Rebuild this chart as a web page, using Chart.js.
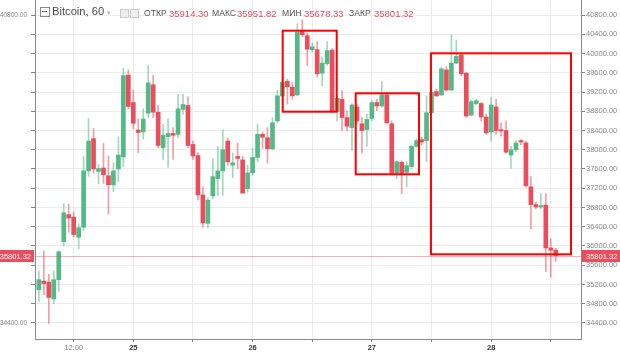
<!DOCTYPE html>
<html>
<head>
<meta charset="utf-8">
<script src="https://cdn.jsdelivr.net/npm/chart.js@4.4.1/dist/chart.umd.min.js"></script>
<style>
  html, body { margin: 0; padding: 0; background: #fff; }
  #wrap { position: relative; width: 620px; height: 352px; }
  #legend { position: absolute; left: 0; top: 0; width: 620px; height: 24px; font-family: "Liberation Sans", Arial, sans-serif; }
  #legend span { position: absolute; white-space: nowrap; line-height: 1; }
  .nm { font-size: 8.6px; color: #555; top: 9px; }
  .val { font-size: 9.5px; color: #e2505d; top: 8.5px; }
  .sq { width: 7px; height: 7px; border: 1px solid #ccc; background: #eee; top: 9px; }
</style>
</head>
<body>
<div id="wrap">
  <canvas id="chart" width="620" height="352"></canvas>
  <div id="legend">
    <span style="left:40px;top:7px;width:8px;height:8px;border:1px solid #888;"></span>
    <span style="left:42px;top:11px;width:5px;height:1px;background:#666;"></span>
    <span id="title" style="left:52px;top:6px;font-size:11.2px;color:#4a4a4a;"></span>
    <span style="left:107px;top:9px;font-size:7px;color:#bbb;">▾</span>
    <span class="sq" style="left:120px;"></span>
    <span class="sq" style="left:130px;"></span>
  </div>
</div>
<script>
// hourly candles, first one at 24th 05:00 (hours counted from 24th 00:00)
const firstHour = 5;

const open = [35090, 35270, 35250, 34900, 35300, 36090, 36650, 36600, 36180, 36390,
  37560, 38230, 37550, 37620, 37460, 37270, 37600, 37850, 39550, 38980,
  38410, 38370, 38760, 39350, 38780, 38040, 38270, 38340, 38320, 38840,
  38920, 38110, 37880, 37060, 36470, 37040, 37400, 37560, 38180, 37680,
  37860, 37790, 37190, 37520, 37840, 38320, 38250, 38020, 38600, 39120,
  39420, 39300, 39140, 40460, 40370, 40080, 40080, 39590, 39790, 40070,
  38790, 39050, 38670, 38460, 38890, 38540, 38420, 38650, 38980, 38910,
  39140, 38540, 37510, 37740, 37530, 37650, 38070, 38210, 38190, 38770,
  39210, 39140, 39660, 39240, 39800, 39970, 39590, 38720, 38960, 38960,
  38680, 38370, 38890, 38420, 38400, 37890, 38000, 38190, 38140, 37230,
  36860, 36810, 36850, 35960, 35914.30];
const high = [35480, 35900, 35410, 35480, 35900, 36880, 36870, 36710, 36460, 37870,
  38650, 38440, 37690, 38130, 37870, 37730, 38270, 39690, 39660, 39240,
  38640, 38850, 39760, 39550, 38920, 38530, 38640, 38460, 39150, 39150,
  39100, 38180, 37940, 37230, 37000, 37820, 38070, 38420, 38250, 37930,
  38140, 37860, 37680, 38030, 38530, 38370, 38460, 38670, 39230, 39510,
  39470, 39400, 40620, 40700, 40420, 40220, 40250, 39930, 40250, 40100,
  39120, 39230, 38810, 38960, 38950, 38670, 38740, 39020, 39050, 39420,
  39190, 38600, 37770, 37770, 37750, 38100, 38230, 38260, 39120, 39230,
  39260, 39720, 39730, 40390, 40280, 40000, 39610, 39030, 39050, 38980,
  38740, 39090, 39050, 38560, 38600, 38070, 38190, 38210, 38180, 37440,
  36910, 37090, 37090, 36150, 35951.82];
const low = [34850, 34990, 34390, 34800, 35060, 36000, 36290, 36180, 35940, 36320,
  37450, 37510, 37290, 37300, 36660, 37130, 37340, 37650, 38850, 38430,
  37940, 38220, 38670, 38670, 38040, 37800, 37640, 37800, 38250, 38740,
  38040, 37800, 36950, 36390, 36380, 36980, 37050, 37050, 37680, 37420,
  37610, 37090, 37120, 37470, 37750, 38030, 37720, 38000, 38560, 39100,
  38950, 39050, 39120, 40350, 39750, 40030, 39510, 39330, 39750, 38770,
  38600, 38390, 38390, 37980, 38530, 37930, 38070, 38600, 38810, 38880,
  38540, 37490, 37400, 37090, 37230, 37610, 38050, 38100, 37750, 38740,
  39100, 39120, 39230, 39230, 39790, 39540, 38670, 38700, 38930, 38600,
  38320, 38180, 38320, 38280, 37930, 37610, 37960, 38100, 37230, 36350,
  36770, 36770, 35470, 35350, 35678.33];
const close = [35300, 35220, 34930, 35300, 35880, 36690, 36580, 36240, 36380, 37560,
  38180, 37600, 37610, 37480, 37270, 37560, 37890, 39540, 38900, 38550,
  38360, 38640, 39390, 38780, 38090, 38300, 38340, 38300, 38850, 38940,
  38090, 37870, 37060, 36480, 36950, 37440, 37560, 38000, 37750, 37730,
  37820, 37100, 37520, 37840, 38320, 38260, 38020, 38560, 39120, 39400,
  39310, 39120, 40440, 40390, 40090, 40140, 39580, 39800, 40060, 38790,
  39070, 38670, 38490, 38930, 38600, 38400, 38630, 38980, 38910, 39140,
  38560, 37510, 37750, 37510, 37670, 38070, 38190, 38160, 38770, 39190,
  39120, 39680, 39240, 39800, 39940, 39580, 38700, 39000, 39020, 38680,
  38350, 38930, 38400, 38390, 37950, 38000, 38140, 38160, 37250, 36860,
  36810, 36840, 35960, 35910, 35801.32];

const yTicks = [34400, 34800, 35200, 35600, 36000, 36400, 36800, 37200, 37600,
  38000, 38400, 38800, 39200, 39600, 40000, 40400, 40800];
const xTicks = [12, 24, 36, 48, 60, 72, 84, 96, 108];
const xTickLabels = ['12:00', '25', '', '26', '', '27', '', '28', ''];

const title = 'Bitcoin, 60';
const legendNames = ['ОТКР', 'МАКС', 'МИН', 'ЗАКР'];
const legendValues = [35914.30, 35951.82, 35678.33, 35801.32];
const lastPrice = 35801.32;

// highlighted regions: [from hour, to hour], [low price, high price]
const boxHours = [[54.06, 64.93], [68.75, 81.48], [83.89, 112.07]];
const boxPrices = [[38791, 40474], [37490, 39173], [35827, 40004]];

const UP = '#53b987';
const DOWN = '#eb4d5c';
const FONT = '"Liberation Sans", Arial, sans-serif';

// legend text
document.getElementById('title').textContent = title;
const legend = document.getElementById('legend');
const nameLeft = [144, 212, 282, 349];
const valLeft = [169, 237, 304, 374];
legendNames.forEach((n, i) => {
  const a = document.createElement('span');
  a.className = 'nm';
  a.style.left = nameLeft[i] + 'px';
  a.textContent = n;
  legend.appendChild(a);
  const b = document.createElement('span');
  b.className = 'val';
  b.style.left = valLeft[i] + 'px';
  b.textContent = legendValues[i].toFixed(2);
  legend.appendChild(b);
});

const isUp = close.map((c, i) => c >= open[i]);
const wicks = close.map((c, i) => ({ x: firstHour + i, y: [low[i], high[i]] }));
const bodies = close.map((c, i) => ({ x: firstHour + i, y: [Math.min(open[i], c), Math.max(open[i], c)] }));

const overlay = {
  id: 'overlay',
  afterDatasetsDraw(chart) {
    const { ctx, chartArea: a, scales: { x, y } } = chart;
    const py = Math.round(y.getPixelForValue(lastPrice)) + 0.5;
    ctx.save();
    ctx.strokeStyle = 'rgba(235,77,92,0.45)';
    ctx.lineWidth = 1;
    ctx.beginPath();
    ctx.moveTo(a.left, py);
    ctx.lineTo(a.right, py);
    ctx.stroke();

    ctx.strokeStyle = '#ff0000';
    ctx.lineWidth = 2;
    boxHours.forEach((h, i) => {
      const x0 = x.getPixelForValue(h[0]);
      const x1 = x.getPixelForValue(h[1]);
      const y0 = y.getPixelForValue(boxPrices[i][1]);
      const y1 = y.getPixelForValue(boxPrices[i][0]);
      ctx.strokeRect(x0, y0, x1 - x0, y1 - y0);
    });
    ctx.restore();
  },
  afterDraw(chart) {
    const { ctx, chartArea: a, scales: { y } } = chart;
    const py = Math.round(y.getPixelForValue(lastPrice));
    ctx.save();
    ctx.fillStyle = DOWN;
    ctx.fillRect(a.right + 1, py - 6, chart.width - a.right, 12);
    ctx.fillRect(0, py - 6, a.left - 1, 12);
    ctx.fillStyle = '#fff';
    ctx.font = '7.5px ' + FONT;
    ctx.textBaseline = 'middle';
    ctx.textAlign = 'left';
    ctx.fillText(lastPrice.toFixed(2), a.right + 5, py + 0.5);
    ctx.textAlign = 'right';
    ctx.fillText(lastPrice.toFixed(2), a.left - 4, py + 0.5);
    ctx.restore();
  }
};

const setTicks = list => scale => { scale.ticks = list.map(v => ({ value: v })); };
const noPad = w => s => {
  s.width = w;
  s.paddingTop = 0;
  s.paddingBottom = 0;
};

new Chart(document.getElementById('chart'), {
  type: 'bar',
  data: {
    datasets: [
      {
        label: 'wick',
        data: wicks,
        backgroundColor: isUp.map(u => u ? 'rgba(83,185,135,0.55)' : 'rgba(235,77,92,0.55)'),
        barThickness: 1,
        grouped: false,
        order: 2,
        yAxisID: 'y'
      },
      {
        label: 'body',
        data: bodies,
        backgroundColor: isUp.map(u => u ? UP : DOWN),
        barThickness: 4,
        minBarLength: 1,
        grouped: false,
        order: 1,
        yAxisID: 'y'
      }
    ]
  },
  options: {
    responsive: false,
    animation: false,
    devicePixelRatio: 1,
    layout: { padding: 0 },
    plugins: { legend: { display: false }, tooltip: { enabled: false } },
    scales: {
      x: {
        type: 'linear',
        min: 4.22,
        max: 114.08,
        offset: false,
        afterBuildTicks: setTicks(xTicks),
        afterFit: s => { s.height = 13; s.paddingLeft = 0; s.paddingRight = 0; },
        grid: { offset: false, color: '#ececec', tickColor: '#888', tickLength: 3 },
        border: { color: '#8a8a8a' },
        ticks: {
          autoSkip: false,
          maxRotation: 0,
          padding: 1,
          font: ctx => ({ family: FONT, size: 7.5, weight: ctx.tick && /^\d\d$/.test(ctx.tick.label) ? 'bold' : 'normal' }),
          color: ctx => ctx.tick && /^\d\d$/.test(ctx.tick.label) ? '#333' : '#888',
          callback: v => {
            const k = xTicks.indexOf(v);
            return k >= 0 ? xTickLabels[k] : '';
          }
        }
      },
      y: {
        type: 'linear',
        position: 'right',
        min: 34067,
        max: 41112,
        beginAtZero: false,
        afterBuildTicks: setTicks(yTicks),
        afterFit: noPad(39),
        grid: { color: '#ececec', tickColor: '#888', tickLength: 4 },
        border: { color: '#8a8a8a' },
        ticks: {
          padding: 1,
          color: '#888',
          font: { family: FONT, size: 7.5 },
          callback: v => v.toFixed(2)
        }
      },
      yLeft: {
        type: 'linear',
        position: 'left',
        min: 34067,
        max: 41112,
        afterBuildTicks: setTicks(yTicks),
        afterFit: noPad(35),
        grid: { drawOnChartArea: false, tickColor: '#888', tickLength: 4 },
        border: { color: '#8a8a8a' },
        ticks: {
          padding: 4,
          color: '#888',
          font: { family: FONT, size: 6.5 },
          callback: v => (v === yTicks[0] || v === yTicks[yTicks.length - 1]) ? v.toFixed(2) : ''
        }
      }
    }
  },
  plugins: [overlay]
});
</script>
</body>
</html>
